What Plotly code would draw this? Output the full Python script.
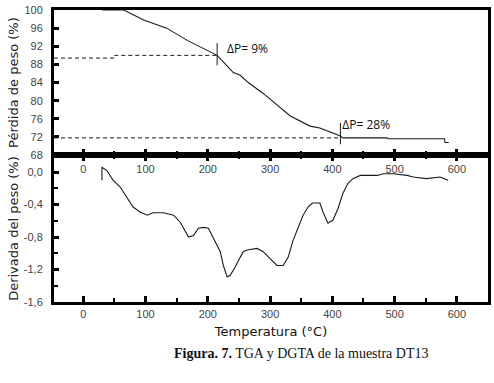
import plotly.graph_objects as go

# ---- data ----
tga_T = [30, 46, 65, 97, 134, 167, 190, 215, 241, 252, 265, 289, 332, 364, 380, 413, 417, 488, 489, 580, 581, 587]
tga_W = [100, 100, 100, 97.8, 96, 93.3, 91.8, 90, 86.2, 85.6, 84, 81.6, 76.7, 74.4, 74, 72.2, 71.8, 71.8, 71.6, 71.6, 70.8, 70.8]

dtg_T = [30, 30, 38, 48, 59, 70, 80, 91, 103, 112, 129, 145, 156, 169, 177, 185, 193, 201, 209, 220, 225, 231,
         236, 244, 252, 257, 263, 279, 289, 300, 311, 321, 329, 337, 345, 353, 361, 368, 380, 385, 393, 401,
         409, 417, 425, 433, 445, 472, 482, 498, 520, 530, 551, 573, 586]
dtg_D = [-0.1, 0.06, 0.02, -0.1, -0.18, -0.32, -0.43, -0.49, -0.53, -0.5, -0.5, -0.53, -0.62, -0.8, -0.78,
         -0.69, -0.68, -0.69, -0.81, -0.98, -1.15, -1.29, -1.27, -1.17, -1.05, -0.98, -0.96, -0.94, -0.98,
         -1.06, -1.15, -1.15, -1.05, -0.84, -0.68, -0.53, -0.43, -0.38, -0.38, -0.49, -0.63, -0.59, -0.45,
         -0.26, -0.14, -0.08, -0.04, -0.04, -0.02, -0.02, -0.04, -0.06, -0.08, -0.06, -0.1]

# reference (dashed) levels and markers
ref1_T = [-47, 50, 50, 215]
ref1_W = [89.4, 89.4, 90, 90]
ref2_T = [-47, 413]
ref2_W = [71.8, 71.8]
mark1_T = [215, 215]
mark1_W = [92.7, 87.8]
mark2_T = [413, 413]
mark2_W = [75.1, 70.4]
labels = ["\u0394P= 9%", "\u0394P= 28%"]
label_T = [231, 416]
label_W = [91.1, 74.4]

x_ticks = [0, 100, 200, 300, 400, 500, 600]
y1_ticks = [68, 72, 76, 80, 84, 88, 92, 96, 100]
y2_ticks = [0.0, -0.4, -0.8, -1.2, -1.6]
y2_text = ["0,0", "-0,4", "-0,8", "-1,2", "-1,6"]

fig = go.Figure()
lc = "#1a1a1a"
fig.add_trace(go.Scatter(x=tga_T, y=tga_W, mode="lines", line=dict(color=lc, width=1.1), xaxis="x", yaxis="y"))
fig.add_trace(go.Scatter(x=ref1_T, y=ref1_W, mode="lines", line=dict(color=lc, width=1, dash="4px,3px"), xaxis="x", yaxis="y"))
fig.add_trace(go.Scatter(x=ref2_T, y=ref2_W, mode="lines", line=dict(color=lc, width=1, dash="4px,3px"), xaxis="x", yaxis="y"))
fig.add_trace(go.Scatter(x=mark1_T, y=mark1_W, mode="lines", line=dict(color=lc, width=1), xaxis="x", yaxis="y"))
fig.add_trace(go.Scatter(x=mark2_T, y=mark2_W, mode="lines", line=dict(color=lc, width=1), xaxis="x", yaxis="y"))
fig.add_trace(go.Scatter(x=label_T, y=label_W, mode="text", text=labels, textposition="middle right",
                         textfont=dict(family="Open Sans", size=12, color="#111"), xaxis="x", yaxis="y"))
fig.add_trace(go.Scatter(x=dtg_T, y=dtg_D, mode="lines", line=dict(color=lc, width=1.1), xaxis="x2", yaxis="y2"))

tickfont = dict(family="Liberation Sans, Arial", size=11, color="#444")
xcommon = dict(range=[-47, 650], tickvals=x_ticks, ticks="inside", ticklen=6, tickwidth=2.5, tickcolor="black",
               showline=True, linewidth=3, linecolor="black", showgrid=False, zeroline=False, automargin=False,
               minor=dict(tickmode="linear", tick0=0, dtick=50, ticklen=4, tickwidth=2, tickcolor="black", ticks="inside"),
               tickfont=tickfont)
split = 0.503
fig.update_layout(
    width=494, height=383, margin=dict(l=54, r=6, t=10, b=81, autoexpand=False),
    plot_bgcolor="white", paper_bgcolor="white", showlegend=False,
    xaxis=dict(xcommon, anchor="y", domain=[0, 1], mirror=True, showticklabels=True, ticklabelstandoff=2),
    yaxis=dict(domain=[split, 1], range=[68, 100], tickvals=y1_ticks, ticks="inside", ticklen=5, tickwidth=2.5,
               tickcolor="black", showline=True, linewidth=3, linecolor="black", mirror=True, showgrid=False,
               zeroline=False, tickfont=tickfont, ticklabelstandoff=6, automargin=False,
               title=dict(text="P\u00e9rdida de peso (%)", font=dict(family="DejaVu Sans", size=13, color="#222"), standoff=3)),
    xaxis2=dict(xcommon, anchor="y2", domain=[0, 1], mirror="ticks", ticklabelstandoff=0,
                title=dict(text="Temperatura (\u00b0C)", font=dict(family="DejaVu Sans", size=13, color="#111"), standoff=8)),
    yaxis2=dict(domain=[0, split], range=[-1.6, 0.21], tickvals=y2_ticks, ticktext=y2_text, ticks="inside",
                ticklen=5, tickwidth=2.5, tickcolor="black", showline=True, linewidth=3, linecolor="black",
                mirror=True, showgrid=False, zeroline=False, tickfont=tickfont, ticklabelstandoff=6, automargin=False,
                minor=dict(tickmode="linear", tick0=0, dtick=0.2, ticklen=4, tickwidth=2, tickcolor="black", ticks="inside"),
                title=dict(text="Derivada del peso (%)", font=dict(family="DejaVu Sans", size=13, color="#222"), standoff=3)),
    annotations=[dict(text="<b>Figura. 7.</b> TGA y DGTA de la muestra DT13", xref="paper", yref="paper",
                      x=0.571, y=-0.175, xanchor="center", yanchor="middle", showarrow=False,
                      font=dict(family="Liberation Serif", size=14, color="#111"))],
)
fig.write_html("out.html", config={"displayModeBar": False},
               post_script="document.body.style.margin='0';")
